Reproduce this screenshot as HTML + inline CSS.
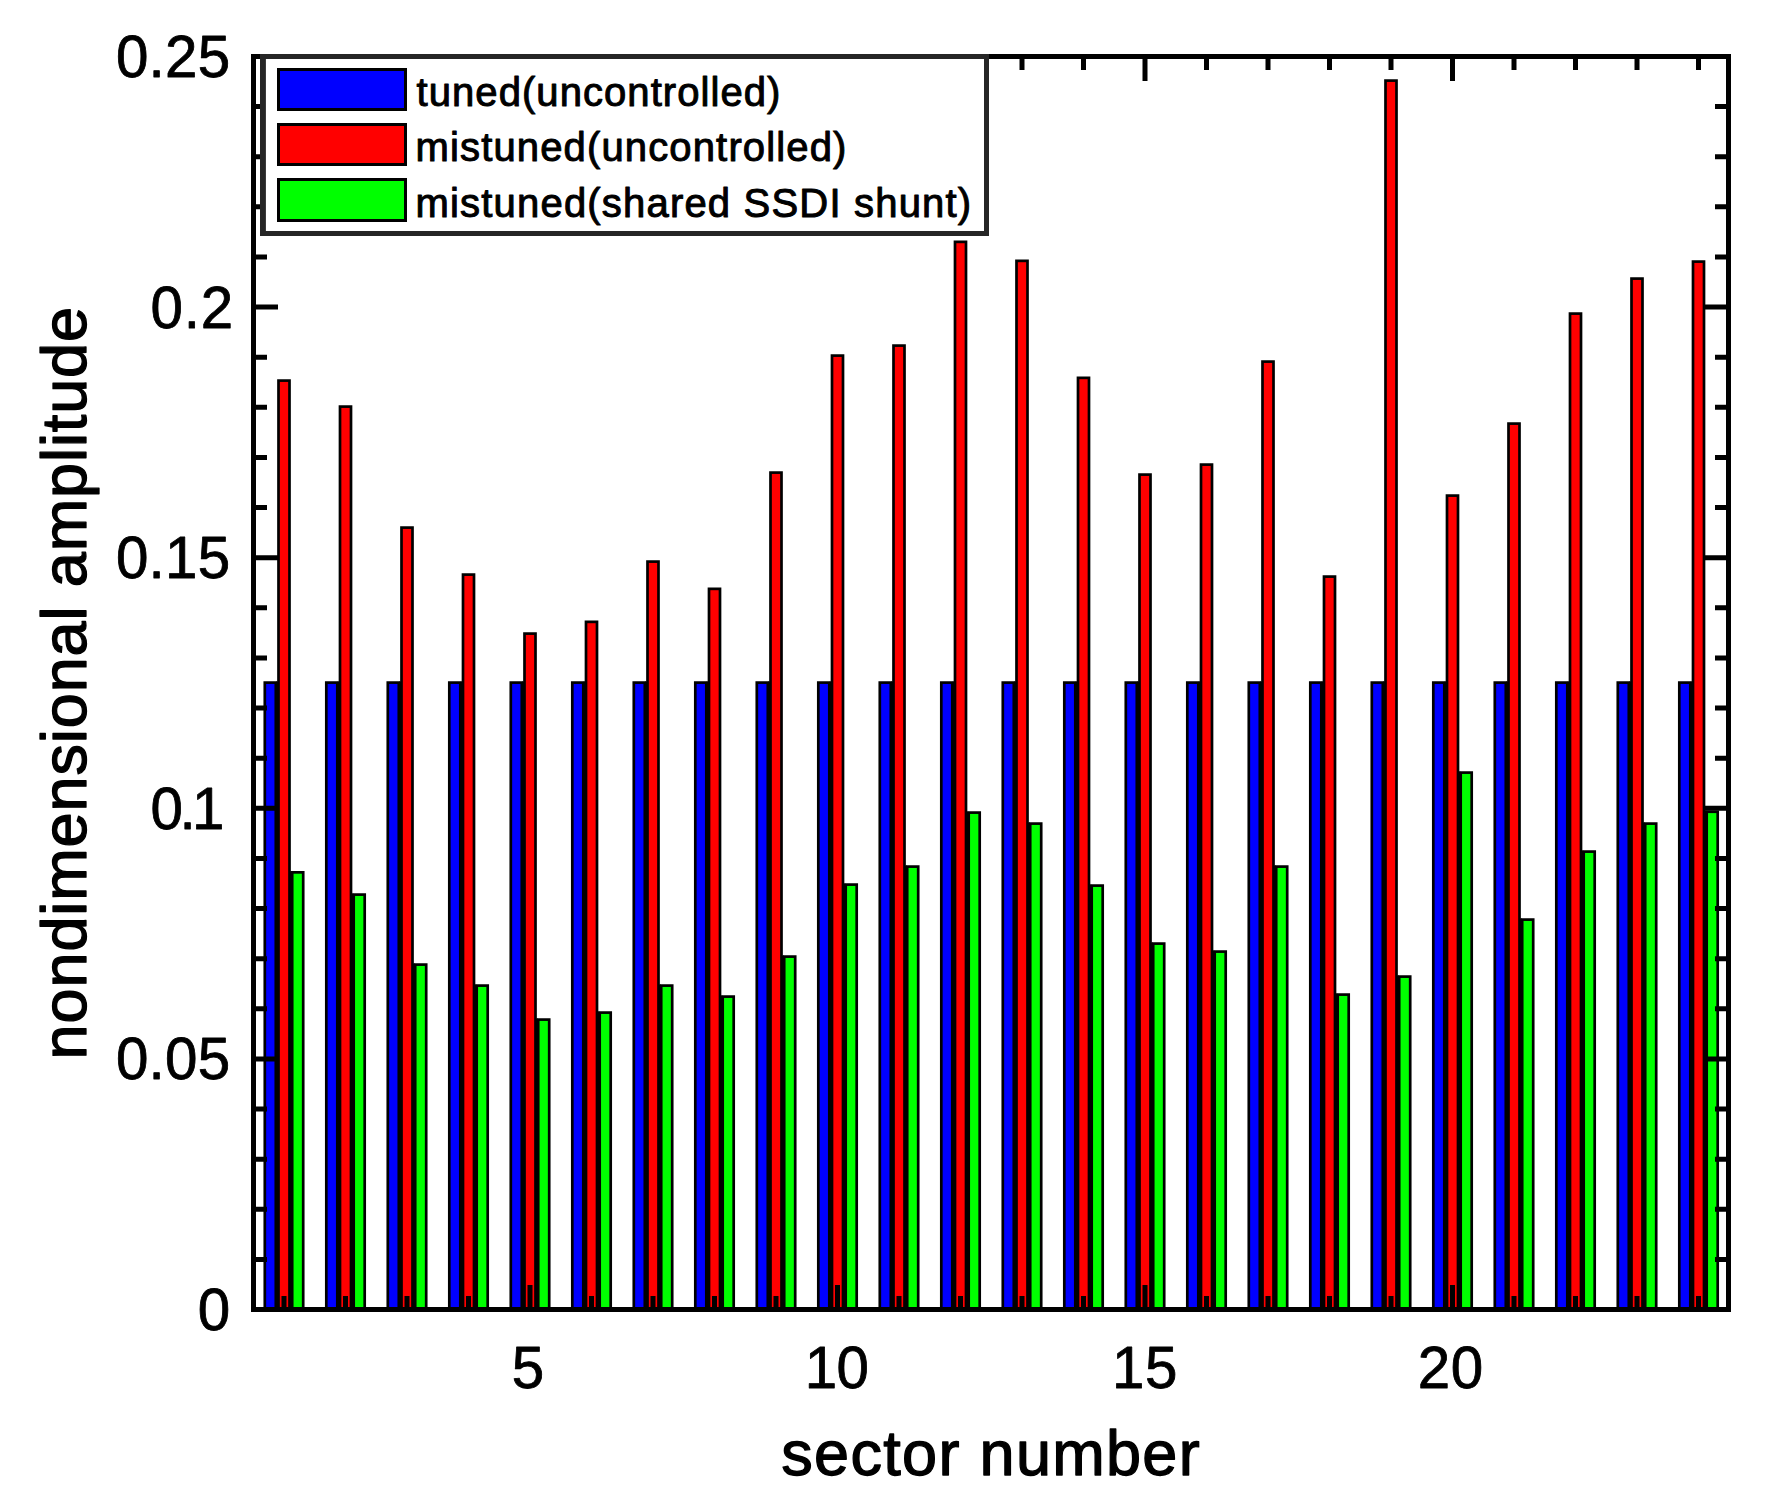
<!DOCTYPE html>
<html lang="en">
<head>
<meta charset="utf-8">
<title>nondimensional amplitude vs sector number</title>
<style>
html,body{margin:0;padding:0;background:#fff;}
body{width:1772px;height:1510px;overflow:hidden;}
svg{display:block;}
text{font-family:"Liberation Sans",Arial,Helvetica,sans-serif;fill:#000;stroke:#000;stroke-width:0.8px;stroke-linejoin:round;}
.tk{font-size:58.3px;}
.lb{font-size:63px;stroke-width:1.3px;}
.lg{font-size:40px;stroke-width:1px;}
.bar{stroke:#000;stroke-width:2.7;}
.b{fill:#0000ff;}
.r{fill:#ff0000;}
.g{fill:#00ff00;}
.t{stroke:#000;stroke-width:5;fill:none;}
</style>
</head>
<body>
<svg width="1772" height="1510" viewBox="0 0 1772 1510">
<rect x="0" y="0" width="1772" height="1510" fill="#ffffff"/>

<path d="M277.15 681.55V1309.5M290.85 871.3V1309.5M338.65 681.55V1309.5M352.35 893.55V1309.5M400.15 681.55V1309.5M413.85 963.55V1309.5M461.65 681.55V1309.5M475.35 984.55V1309.5M523.15 681.55V1309.5M536.85 1018.55V1309.5M584.65 681.55V1309.5M598.35 1011.55V1309.5M646.15 681.55V1309.5M659.85 984.55V1309.5M707.65 681.55V1309.5M721.35 995.55V1309.5M769.15 681.55V1309.5M782.85 955.55V1309.5M830.65 681.55V1309.5M844.35 883.55V1309.5M892.15 681.55V1309.5M905.85 865.55V1309.5M953.65 681.55V1309.5M967.35 811.55V1309.5M1015.15 681.55V1309.5M1028.85 822.55V1309.5M1076.65 681.55V1309.5M1090.35 884.55V1309.5M1138.15 681.55V1309.5M1151.85 942.55V1309.5M1199.65 681.55V1309.5M1213.35 950.55V1309.5M1261.15 681.55V1309.5M1274.85 865.55V1309.5M1322.65 681.55V1309.5M1336.35 993.55V1309.5M1384.15 681.55V1309.5M1397.85 975.55V1309.5M1445.65 681.55V1309.5M1459.35 771.55V1309.5M1507.15 681.55V1309.5M1520.85 918.55V1309.5M1568.65 681.55V1309.5M1582.35 850.55V1309.5M1630.15 681.55V1309.5M1643.85 822.55V1309.5M1691.65 681.55V1309.5M1705.35 810.7V1309.5" stroke="#000" stroke-width="2" fill="none"/>
<g class="bar">
<rect class="b" x="264.8" y="682.6" width="11" height="626.9"/>
<rect class="r" x="278.5" y="380.6" width="11" height="928.9"/>
<rect class="g" x="292.2" y="872.35" width="11" height="437.15"/>
<rect class="b" x="326.3" y="682.6" width="11" height="626.9"/>
<rect class="r" x="340" y="406.6" width="11" height="902.9"/>
<rect class="g" x="353.7" y="894.6" width="11" height="414.9"/>
<rect class="b" x="387.8" y="682.6" width="11" height="626.9"/>
<rect class="r" x="401.5" y="527.6" width="11" height="781.9"/>
<rect class="g" x="415.2" y="964.6" width="11" height="344.9"/>
<rect class="b" x="449.3" y="682.6" width="11" height="626.9"/>
<rect class="r" x="463" y="574.6" width="11" height="734.9"/>
<rect class="g" x="476.7" y="985.6" width="11" height="323.9"/>
<rect class="b" x="510.8" y="682.6" width="11" height="626.9"/>
<rect class="r" x="524.5" y="633.6" width="11" height="675.9"/>
<rect class="g" x="538.2" y="1019.6" width="11" height="289.9"/>
<rect class="b" x="572.3" y="682.6" width="11" height="626.9"/>
<rect class="r" x="586" y="621.85" width="11" height="687.65"/>
<rect class="g" x="599.7" y="1012.6" width="11" height="296.9"/>
<rect class="b" x="633.8" y="682.6" width="11" height="626.9"/>
<rect class="r" x="647.5" y="561.6" width="11" height="747.9"/>
<rect class="g" x="661.2" y="985.6" width="11" height="323.9"/>
<rect class="b" x="695.3" y="682.6" width="11" height="626.9"/>
<rect class="r" x="709" y="588.85" width="11" height="720.65"/>
<rect class="g" x="722.7" y="996.6" width="11" height="312.9"/>
<rect class="b" x="756.8" y="682.6" width="11" height="626.9"/>
<rect class="r" x="770.5" y="472.6" width="11" height="836.9"/>
<rect class="g" x="784.2" y="956.6" width="11" height="352.9"/>
<rect class="b" x="818.3" y="682.6" width="11" height="626.9"/>
<rect class="r" x="832" y="355.6" width="11" height="953.9"/>
<rect class="g" x="845.7" y="884.6" width="11" height="424.9"/>
<rect class="b" x="879.8" y="682.6" width="11" height="626.9"/>
<rect class="r" x="893.5" y="345.6" width="11" height="963.9"/>
<rect class="g" x="907.2" y="866.6" width="11" height="442.9"/>
<rect class="b" x="941.3" y="682.6" width="11" height="626.9"/>
<rect class="r" x="955" y="241.85" width="11" height="1067.65"/>
<rect class="g" x="968.7" y="812.6" width="11" height="496.9"/>
<rect class="b" x="1002.8" y="682.6" width="11" height="626.9"/>
<rect class="r" x="1016.5" y="260.85" width="11" height="1048.65"/>
<rect class="g" x="1030.2" y="823.6" width="11" height="485.9"/>
<rect class="b" x="1064.3" y="682.6" width="11" height="626.9"/>
<rect class="r" x="1078" y="377.85" width="11" height="931.65"/>
<rect class="g" x="1091.7" y="885.6" width="11" height="423.9"/>
<rect class="b" x="1125.8" y="682.6" width="11" height="626.9"/>
<rect class="r" x="1139.5" y="474.6" width="11" height="834.9"/>
<rect class="g" x="1153.2" y="943.6" width="11" height="365.9"/>
<rect class="b" x="1187.3" y="682.6" width="11" height="626.9"/>
<rect class="r" x="1201" y="464.6" width="11" height="844.9"/>
<rect class="g" x="1214.7" y="951.6" width="11" height="357.9"/>
<rect class="b" x="1248.8" y="682.6" width="11" height="626.9"/>
<rect class="r" x="1262.5" y="361.6" width="11" height="947.9"/>
<rect class="g" x="1276.2" y="866.6" width="11" height="442.9"/>
<rect class="b" x="1310.3" y="682.6" width="11" height="626.9"/>
<rect class="r" x="1324" y="576.6" width="11" height="732.9"/>
<rect class="g" x="1337.7" y="994.6" width="11" height="314.9"/>
<rect class="b" x="1371.8" y="682.6" width="11" height="626.9"/>
<rect class="r" x="1385.5" y="80.6" width="11" height="1228.9"/>
<rect class="g" x="1399.2" y="976.6" width="11" height="332.9"/>
<rect class="b" x="1433.3" y="682.6" width="11" height="626.9"/>
<rect class="r" x="1447" y="495.6" width="11" height="813.9"/>
<rect class="g" x="1460.7" y="772.6" width="11" height="536.9"/>
<rect class="b" x="1494.8" y="682.6" width="11" height="626.9"/>
<rect class="r" x="1508.5" y="423.6" width="11" height="885.9"/>
<rect class="g" x="1522.2" y="919.6" width="11" height="389.9"/>
<rect class="b" x="1556.3" y="682.6" width="11" height="626.9"/>
<rect class="r" x="1570" y="313.6" width="11" height="995.9"/>
<rect class="g" x="1583.7" y="851.6" width="11" height="457.9"/>
<rect class="b" x="1617.8" y="682.6" width="11" height="626.9"/>
<rect class="r" x="1631.5" y="278.6" width="11" height="1030.9"/>
<rect class="g" x="1645.2" y="823.6" width="11" height="485.9"/>
<rect class="b" x="1679.3" y="682.6" width="11" height="626.9"/>
<rect class="r" x="1693" y="261.6" width="11" height="1047.9"/>
<rect class="g" x="1706.7" y="811.75" width="11" height="497.75"/>
</g>
<path class="t" d="M256 1259.38h11M1726 1259.38h-11M256 1209.26h11M1726 1209.26h-11M256 1159.14h11M1726 1159.14h-11M256 1109.02h11M1726 1109.02h-11M256 1058.9h22M1726 1058.9h-22M256 1008.78h11M1726 1008.78h-11M256 958.66h11M1726 958.66h-11M256 908.54h11M1726 908.54h-11M256 858.42h11M1726 858.42h-11M256 808.3h22M1726 808.3h-22M256 758.18h11M1726 758.18h-11M256 708.06h11M1726 708.06h-11M256 657.94h11M1726 657.94h-11M256 607.82h11M1726 607.82h-11M256 557.7h22M1726 557.7h-22M256 507.58h11M1726 507.58h-11M256 457.46h11M1726 457.46h-11M256 407.34h11M1726 407.34h-11M256 357.22h11M1726 357.22h-11M256 307.1h22M1726 307.1h-22M256 256.98h11M1726 256.98h-11M256 206.86h11M1726 206.86h-11M256 156.74h11M1726 156.74h-11M256 106.62h11M1726 106.62h-11M284 1307v-11M284 59v11M345.5 1307v-11M345.5 59v11M407 1307v-11M407 59v11M468.5 1307v-11M468.5 59v11M530 1307v-22M530 59v22M591.5 1307v-11M591.5 59v11M653 1307v-11M653 59v11M714.5 1307v-11M714.5 59v11M776 1307v-11M776 59v11M837.5 1307v-22M837.5 59v22M899 1307v-11M899 59v11M960.5 1307v-11M960.5 59v11M1022 1307v-11M1022 59v11M1083.5 1307v-11M1083.5 59v11M1145 1307v-22M1145 59v22M1206.5 1307v-11M1206.5 59v11M1268 1307v-11M1268 59v11M1329.5 1307v-11M1329.5 59v11M1391 1307v-11M1391 59v11M1452.5 1307v-22M1452.5 59v22M1514 1307v-11M1514 59v11M1575.5 1307v-11M1575.5 59v11M1637 1307v-11M1637 59v11M1698.5 1307v-11M1698.5 59v11"/>
<rect class="t" x="253.5" y="56.5" width="1475" height="1253"/>
<rect x="262.5" y="56.5" width="724" height="177" fill="#fff" stroke="#262626" stroke-width="5"/>
<rect x="264.5" y="58" width="1.4" height="174" fill="#262626"/>
<rect class="b" x="278.5" y="69.5" width="127" height="40" stroke="#000" stroke-width="3"/>
<rect class="r" x="278.5" y="124.5" width="127" height="40" stroke="#000" stroke-width="3"/>
<rect class="g" x="278.5" y="179.5" width="127" height="41" stroke="#000" stroke-width="3"/>
<text class="tk" x="115.9" y="76.9" textLength="114.2" lengthAdjust="spacing">0.25</text>
<text class="tk" x="150.6" y="327.5" textLength="82.5" lengthAdjust="spacing">0.2</text>
<text class="tk" x="115.9" y="578.1" textLength="114.2" lengthAdjust="spacing">0.15</text>
<text class="tk" x="150.6" y="828.7" textLength="73.8" lengthAdjust="spacing">0.1</text>
<text class="tk" x="115.9" y="1079.3" textLength="114.2" lengthAdjust="spacing">0.05</text>
<text class="tk" x="197.7" y="1329.9">0</text>
<text class="tk" x="511.8" y="1388.2">5</text>
<text class="tk" x="804.8" y="1388.2" textLength="64.2" lengthAdjust="spacing">10</text>
<text class="tk" x="1112.1" y="1388.2" textLength="65.3" lengthAdjust="spacing">15</text>
<text class="tk" x="1417.7" y="1388.2" textLength="65.6" lengthAdjust="spacing">20</text>
<text class="lb" x="781.3" y="1475.4" textLength="418.4" lengthAdjust="spacing">sector number</text>
<text class="lb" transform="translate(86.3 1059.4) rotate(-90)" textLength="752.5" lengthAdjust="spacing">nondimensional amplitude</text>
<text class="lg" x="416.5" y="106.1" textLength="363.9" lengthAdjust="spacing">tuned(uncontrolled)</text>
<text class="lg" x="415.5" y="161.3" textLength="430.9" lengthAdjust="spacing">mistuned(uncontrolled)</text>
<text class="lg" x="415.5" y="217.1" textLength="555.7" lengthAdjust="spacing">mistuned(shared SSDI shunt)</text>
</svg>
</body>
</html>
